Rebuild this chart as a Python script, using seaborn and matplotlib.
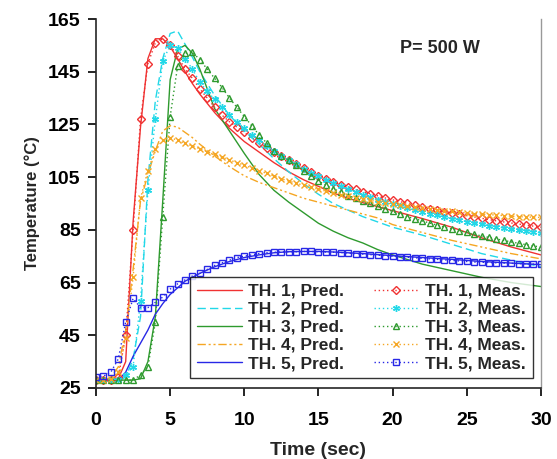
import numpy as np
import pandas as pd
import matplotlib
matplotlib.use("Agg")
import matplotlib.pyplot as plt
import seaborn as sns
from matplotlib import font_manager

# ---------------- data ----------------
t_pred = [0, 0.5, 1, 1.5, 2, 2.5, 3, 3.5, 4, 4.5, 5, 5.5, 6, 6.5, 7, 8, 9, 10, 11, 12,
          13, 14, 15, 16, 17, 18, 19, 20, 22, 24, 26, 28, 30]

th1_pred = [28, 28, 28, 28.5, 35, 88, 124, 150, 157.5, 157.5, 154.5, 150, 145, 140.5, 136.5, 129.5,
            123.5, 118.5, 114.5, 110.5, 107, 104, 101.5, 99, 97, 95.3, 93.8, 92.3, 89.3, 86, 82, 78.5, 75.5]
th2_pred = [28, 28, 28, 28, 29, 36, 52, 104, 134, 150, 159.5, 160.5, 155.5, 150.5, 145, 136,
            128.5, 122.5, 117.5, 112, 107, 102.5, 98.5, 95, 92.5, 90, 88, 86, 83, 79.5, 76, 73.5, 71]
th3_pred = [28, 28, 28, 28, 28, 28, 28.5, 35, 52, 96, 142, 153.5, 155, 152, 146, 131,
            122.5, 114, 106, 100, 95.5, 91.5, 87.5, 84.5, 82, 80, 77.5, 75.5, 72, 69.5, 67, 65, 63.5]
th4_pred = [28, 28, 29, 33, 47, 70, 96, 106, 115, 122.5, 124.5, 124, 122, 120, 117.5, 113,
            109, 105.5, 103, 101, 99, 97, 95.5, 94, 92.5, 91, 89.5, 87, 84, 81, 78.5, 76, 74]
th5_pred = [28, 28, 28, 28, 31, 37, 42, 47, 53, 57, 60.5, 63, 65.5, 67, 68.5, 71,
            73, 74.5, 75.5, 76.3, 76.7, 76.8, 76.8, 76.6, 76.3, 76, 75.6, 75.2, 74.5, 73.8, 73, 72.4, 71.8]

t_meas = [i * 0.5 for i in range(61)]

th1_meas = [28, 28, 28, 29, 45, 85, 127, 148, 156, 157.5, 155, 151, 146, 142.5, 138.5, 135,
            131.5, 128.5, 126, 124, 122, 120, 118, 116, 114.5, 113, 111.5, 110, 108.5, 107, 105.5,
            104.3, 103.2, 102.2, 101.3, 100.4, 99.5, 98.7, 97.9, 97.1, 96.4, 95.7, 95, 94.3, 93.7,
            93.1, 92.5, 91.9, 91.4, 90.9, 90.4, 89.9, 89.4, 88.9, 88.4, 88, 87.6, 87.2, 86.8, 86.4, 86]
th2_meas = [28, 28, 28, 28, 30, 33, 58, 100, 127, 149, 155, 154, 150, 146, 141, 137.5,
            134.5, 131.5, 128.5, 126, 123.5, 121, 119, 117, 115, 113.2, 111.5, 109.8, 108.2, 106.7, 105.3,
            104, 102.7, 101.5, 100.4, 99.4, 98.4, 97.4, 96.5, 95.6, 94.8, 94, 93.2, 92.5, 91.8,
            91.1, 90.5, 89.9, 89.3, 88.7, 88.1, 87.6, 87.1, 86.6, 86.1, 85.7, 85.3, 84.9, 84.5, 84.2, 83.8]
th3_meas = [28, 28, 28, 28, 28, 28, 30, 33, 50, 90, 128, 147, 152, 152.5, 149.5, 146,
            142.5, 139, 135, 131.5, 128, 124.5, 121, 118, 115, 113, 111.5, 109.5, 107.5, 105.5, 103.5,
            102, 100.5, 99.5, 98, 97, 96, 95, 94, 93, 92, 91, 90, 89.2, 88.4,
            87.6, 86.8, 86, 85.3, 84.6, 84, 83.3, 82.7, 82.1, 81.5, 81, 80.4, 79.9, 79.4, 78.9, 78.5]
th4_meas = [28, 28, 28.5, 31, 44, 67, 97, 107.5, 115.5, 119, 120, 119, 117.8, 116.8, 115.8, 114.6,
            113.6, 112.6, 111.5, 110.5, 109.5, 108.5, 107.5, 106.4, 105.4, 104.4, 103.5, 102.7, 101.9, 101.1, 100.4,
            99.7, 99, 98.4, 97.8, 97.2, 96.7, 96.2, 95.7, 95.2, 94.8, 94.4, 94, 93.6, 93.2,
            92.9, 92.6, 92.3, 92, 91.7, 91.4, 91.2, 91, 90.8, 90.6, 90.4, 90.2, 90, 89.9, 89.8, 89.7]
th5_meas = [29, 29.5, 31, 36, 50, 59, 55.5, 55.5, 57.5, 59.5, 62.5, 64.5, 66, 67.5, 68.5, 70,
            71.5, 72.5, 73.5, 74.5, 75, 75.5, 76, 76.3, 76.5, 76.6, 76.7, 76.7, 76.8, 76.8, 76.7,
            76.6, 76.5, 76.4, 76.2, 76, 75.8, 75.6, 75.4, 75.2, 75, 74.8, 74.6, 74.4, 74.2,
            74, 73.8, 73.6, 73.4, 73.2, 73, 72.8, 72.7, 72.6, 72.5, 72.4, 72.3, 72.2, 72.1, 72, 71.9]

pred_labels = ["TH. 1, Pred.", "TH. 2, Pred.", "TH. 3, Pred.", "TH. 4, Pred.", "TH. 5, Pred."]
meas_labels = ["TH. 1, Meas.", "TH. 2, Meas.", "TH. 3, Meas.", "TH. 4, Meas.", "TH. 5, Meas."]
x_ticks = [0, 5, 10, 15, 20, 25, 30]
y_ticks = [25, 45, 65, 85, 105, 125, 145, 165]

# ---------------- style ----------------
sns.set_style("ticks")
names = {f.name for f in font_manager.fontManager.ttflist}
base = "Liberation Sans" if "Liberation Sans" in names else "DejaVu Sans"
plt.rcParams["font.family"] = [base, "DejaVu Sans"]

colors = ["#f03232", "#22d8e8", "#2e9a2e", "#f5a623", "#2828e6"]
pred_styles = ["-", (0, (6, 3)), "-", (0, (6, 2, 1.5, 2, 1.5, 2)), "-"]
markers = ["D", (6, 2, 0), "^", "x", "s"]
msizes = [4, 5, 5, 4, 4.5]

fig = plt.figure(figsize=(5.57, 4.59), dpi=100)
ax = fig.add_axes([0.1724, 0.1547, 0.971 - 0.1724, 0.9586 - 0.1547])

preds = [th1_pred, th2_pred, th3_pred, th4_pred, th5_pred]
meass = [th1_meas, th2_meas, th3_meas, th4_meas, th5_meas]

for i in range(5):
    sns.lineplot(x=t_pred, y=preds[i], ax=ax, color=colors[i], linestyle=pred_styles[i],
                 linewidth=1.0, label=pred_labels[i], sort=False)
for i in range(5):
    mk = markers[i]
    kw = dict(markerfacecolor="none", markeredgecolor=colors[i], markeredgewidth=1.0)
    if mk == "x" or isinstance(mk, tuple):
        kw = dict(markeredgecolor=colors[i], markeredgewidth=1.0)
    sns.lineplot(x=t_meas, y=meass[i], ax=ax, color=colors[i], linestyle=(0, (1, 2)),
                 linewidth=1.0, marker=mk, markersize=msizes[i], label=meas_labels[i],
                 sort=False, **kw)

ax.set_xlim(0, 30)
ax.set_ylim(25, 165)
ax.set_xticks(x_ticks)
ax.set_yticks(y_ticks)
ax.tick_params(axis="both", direction="out", length=6, width=1.2, labelsize=14,
               colors="black")
ax.tick_params(axis="x", pad=11)
ax.tick_params(axis="y", pad=5)
for lab in ax.get_xticklabels() + ax.get_yticklabels():
    lab.set_fontweight("bold")
ax.set_xlabel("Time (sec)", fontsize=14, fontweight="bold", labelpad=10)
ax.set_ylabel("Temperature (°C)", fontsize=12, fontweight="bold", labelpad=6)

ax.spines["top"].set_visible(False)
ax.spines["right"].set_color("#999999")
ax.spines["right"].set_linewidth(1.0)
ax.spines["left"].set_linewidth(1.2)
ax.spines["bottom"].set_linewidth(1.2)

ax.text(0.684, 0.92, "P= 500 W", transform=ax.transAxes, fontsize=13, fontweight="bold",
        va="center", ha="left")

leg = ax.legend(ncol=2, loc="lower left", bbox_to_anchor=(0.211, 0.027, 0.771, 0.273),
                mode="expand", frameon=True, fancybox=False, edgecolor="black",
                prop={"family": [base, "DejaVu Sans"], "weight": "bold", "size": 12.5},
                handlelength=2.6, handletextpad=0.35, labelspacing=0.17, borderpad=0.4,
                columnspacing=0.8, numpoints=1, borderaxespad=0)
leg.get_frame().set_linewidth(1.0)

fig.savefig("out.png", dpi=100)
